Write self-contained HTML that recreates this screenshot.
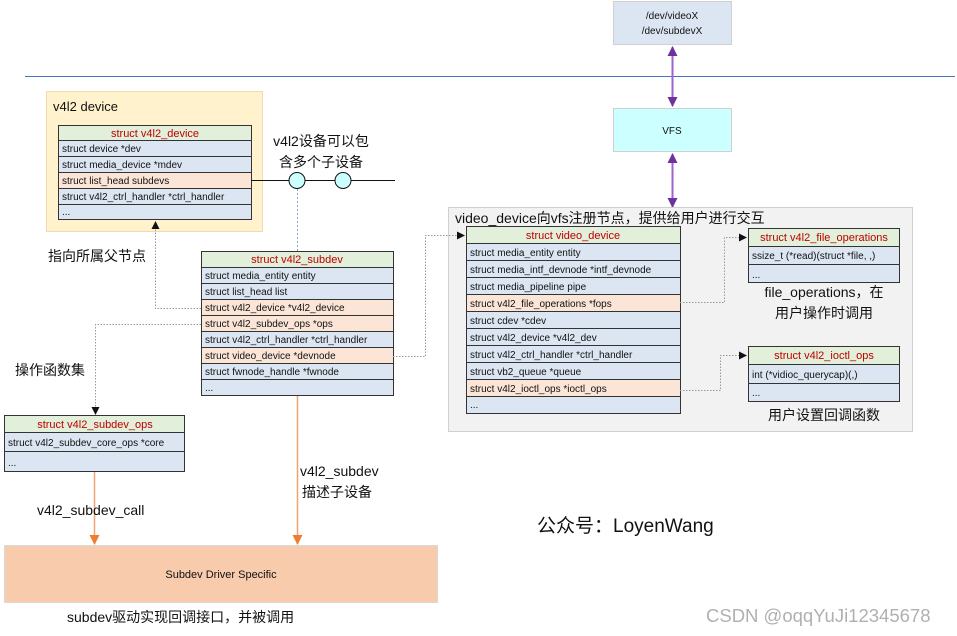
<!DOCTYPE html>
<html><head><meta charset="utf-8"><style>
html,body{margin:0;padding:0;background:#fff;width:957px;height:636px;overflow:hidden}
svg{display:block;font-family:"Liberation Sans","Noto Sans CJK SC",sans-serif}
.t{font-size:10px;fill:#111}
.h{font-size:11px;fill:#c00000}
.c{font-size:14px;fill:#111}
</style></head><body>
<svg width="957" height="636" viewBox="0 0 957 636">
<defs>
<marker id="ab" markerWidth="8" markerHeight="8" refX="7" refY="4" orient="auto" markerUnits="userSpaceOnUse"><path d="M0,0 L8,4 L0,8z" fill="#111"/></marker>
<marker id="ao" markerWidth="10" markerHeight="10" refX="9" refY="5" orient="auto" markerUnits="userSpaceOnUse"><path d="M0,0 L10,5 L0,10z" fill="#ed7d31"/></marker>
<marker id="ap" markerWidth="10" markerHeight="10" refX="9" refY="5" orient="auto-start-reverse" markerUnits="userSpaceOnUse"><path d="M0,0 L10,5 L0,10z" fill="#7030a0"/></marker>
</defs>
<rect x="613.5" y="1.5" width="118" height="43" fill="#dce6f2" stroke="#d0d0d0"/>
<text x="672" y="19" text-anchor="middle" class="t">/dev/videoX</text>
<text x="672" y="34" text-anchor="middle" class="t">/dev/subdevX</text>
<line x1="25" y1="76.5" x2="955" y2="76.5" stroke="#4472c4" stroke-width="1"/>
<rect x="613.5" y="108.5" width="118" height="43" fill="#ccffff" stroke="#d0d0d0"/>
<text x="672" y="134" text-anchor="middle" class="t">VFS</text>
<line x1="672.5" y1="47" x2="672.5" y2="106" stroke="#9966cc" stroke-width="2" marker-start="url(#ap)" marker-end="url(#ap)"/>
<line x1="672.5" y1="154" x2="672.5" y2="206" stroke="#9966cc" stroke-width="2" marker-start="url(#ap)"/>
<line x1="672.5" y1="200" x2="672.5" y2="207" stroke="#9966cc" stroke-width="2" marker-end="url(#ap)"/>

<rect x="46.5" y="91.5" width="216" height="140" fill="#fff2cc" stroke="#f0dcb0"/>
<text x="53" y="111" style="font-size:13px" fill="#111">v4l2 device</text>
<g stroke="#333" stroke-width="1">
<rect x="58.5" y="125.5" width="193" height="15" fill="#e2efda"/>
<rect x="58.5" y="140.5" width="193" height="16" fill="#dce6f2"/>
<rect x="58.5" y="156.5" width="193" height="16" fill="#dce6f2"/>
<rect x="58.5" y="172.5" width="193" height="16" fill="#fbe5d6"/>
<rect x="58.5" y="188.5" width="193" height="16" fill="#dce6f2"/>
<rect x="58.5" y="204.5" width="193" height="15" fill="#dce6f2"/>
</g>
<text x="155" y="137" text-anchor="middle" class="h">struct v4l2_device</text>
<text x="62" y="152" class="t">struct device *dev</text>
<text x="62" y="168" class="t">struct media_device *mdev</text>
<text x="62" y="184" class="t">struct list_head subdevs</text>
<text x="62" y="200" class="t">struct v4l2_ctrl_handler *ctrl_handler</text>
<text x="62" y="215" class="t">...</text>

<line x1="251" y1="180.5" x2="395" y2="180.5" stroke="#111"/>
<circle cx="297" cy="180.5" r="8" fill="#ccffff" stroke="#111"/>
<circle cx="343" cy="180.5" r="8" fill="#ccffff" stroke="#111"/>
<text x="321" y="146" text-anchor="middle" class="c">v4l2设备可以包</text>
<text x="321" y="167" text-anchor="middle" class="c">含多个子设备</text>
<line x1="297.5" y1="189" x2="297.5" y2="251" stroke="#8aa0c8" stroke-dasharray="2,2"/>

<text x="48" y="261" class="c">指向所属父节点</text>
<polyline points="201,308.5 155.5,308.5 155.5,222" fill="none" stroke="#999" stroke-dasharray="1.5,1.5" marker-end="url(#ab)"/>
<polyline points="201,324.5 95.5,324.5 95.5,414" fill="none" stroke="#999" stroke-dasharray="1.5,1.5" marker-end="url(#ab)"/>
<text x="15" y="375" class="c">操作函数集</text>

<g stroke="#333">
<rect x="201.5" y="251.5" width="192" height="16" fill="#e2efda"/>
<rect x="201.5" y="267.5" width="192" height="16" fill="#dce6f2"/>
<rect x="201.5" y="283.5" width="192" height="16" fill="#dce6f2"/>
<rect x="201.5" y="299.5" width="192" height="16" fill="#fbe5d6"/>
<rect x="201.5" y="315.5" width="192" height="16" fill="#fbe5d6"/>
<rect x="201.5" y="331.5" width="192" height="16" fill="#dce6f2"/>
<rect x="201.5" y="347.5" width="192" height="16" fill="#fbe5d6"/>
<rect x="201.5" y="363.5" width="192" height="16" fill="#dce6f2"/>
<rect x="201.5" y="379.5" width="192" height="16" fill="#dce6f2"/>
</g>
<text x="297" y="263" text-anchor="middle" class="h">struct v4l2_subdev</text>
<text x="205" y="279" class="t">struct media_entity entity</text>
<text x="205" y="295" class="t">struct list_head list</text>
<text x="205" y="311" class="t">struct v4l2_device *v4l2_device</text>
<text x="205" y="327" class="t">struct v4l2_subdev_ops *ops</text>
<text x="205" y="343" class="t">struct v4l2_ctrl_handler *ctrl_handler</text>
<text x="205" y="359" class="t">struct video_device *devnode</text>
<text x="205" y="375" class="t">struct fwnode_handle *fwnode</text>
<text x="205" y="391" class="t">...</text>

<g stroke="#333">
<rect x="4.5" y="415.5" width="180" height="17" fill="#e2efda"/>
<rect x="4.5" y="432.5" width="180" height="19" fill="#dce6f2"/>
<rect x="4.5" y="451.5" width="180" height="20" fill="#dce6f2"/>
</g>
<text x="95" y="428" text-anchor="middle" class="h">struct v4l2_subdev_ops</text>
<text x="8" y="446" class="t">struct v4l2_subdev_core_ops *core</text>
<text x="8" y="466" class="t">...</text>

<line x1="94.5" y1="472" x2="94.5" y2="544" stroke="#f4a070" stroke-width="1.5" marker-end="url(#ao)"/>
<line x1="297.5" y1="396" x2="297.5" y2="544" stroke="#f4a070" stroke-width="1.5" marker-end="url(#ao)"/>
<text x="37" y="515" class="c">v4l2_subdev_call</text>
<text x="300" y="476" class="c">v4l2_subdev</text>
<text x="302" y="497" class="c">描述子设备</text>

<rect x="4.5" y="545.5" width="433" height="57" fill="#f8cbad" stroke="#d9d9d9"/>
<text x="221" y="578" text-anchor="middle" class="t" style="font-size:11px">Subdev Driver Specific</text>
<text x="67" y="622" class="c">subdev驱动实现回调接口，并被调用</text>

<rect x="448.5" y="207.5" width="464" height="224" fill="#f2f2f2" stroke="#d0d0d0"/>
<text x="455" y="223" class="c">video_device向vfs注册节点，提供给用户进行交互</text>
<polyline points="393,356.5 425.5,356.5 425.5,235.5 464,235.5" fill="none" stroke="#999" stroke-dasharray="1.5,1.5" marker-end="url(#ab)"/>
<g stroke="#333">
<rect x="466.5" y="226.5" width="214" height="17" fill="#e2efda"/>
<rect x="466.5" y="243.5" width="214" height="17" fill="#dce6f2"/>
<rect x="466.5" y="260.5" width="214" height="17" fill="#dce6f2"/>
<rect x="466.5" y="277.5" width="214" height="17" fill="#dce6f2"/>
<rect x="466.5" y="294.5" width="214" height="17" fill="#fbe5d6"/>
<rect x="466.5" y="311.5" width="214" height="17" fill="#dce6f2"/>
<rect x="466.5" y="328.5" width="214" height="17" fill="#dce6f2"/>
<rect x="466.5" y="345.5" width="214" height="17" fill="#dce6f2"/>
<rect x="466.5" y="362.5" width="214" height="17" fill="#dce6f2"/>
<rect x="466.5" y="379.5" width="214" height="17" fill="#fbe5d6"/>
<rect x="466.5" y="396.5" width="214" height="17" fill="#dce6f2"/>
</g>
<text x="573" y="239" text-anchor="middle" class="h">struct video_device</text>
<text x="470" y="256" class="t">struct media_entity entity</text>
<text x="470" y="273" class="t">struct media_intf_devnode *intf_devnode</text>
<text x="470" y="290" class="t">struct media_pipeline pipe</text>
<text x="470" y="307" class="t">struct v4l2_file_operations *fops</text>
<text x="470" y="324" class="t">struct cdev *cdev</text>
<text x="470" y="341" class="t">struct v4l2_device *v4l2_dev</text>
<text x="470" y="358" class="t">struct v4l2_ctrl_handler *ctrl_handler</text>
<text x="470" y="375" class="t">struct vb2_queue *queue</text>
<text x="470" y="392" class="t">struct v4l2_ioctl_ops *ioctl_ops</text>
<text x="470" y="408" class="t">...</text>

<polyline points="680,302.5 724.5,302.5 724.5,237.5 746,237.5" fill="none" stroke="#999" stroke-dasharray="1.5,1.5" marker-end="url(#ab)"/>
<polyline points="680,390.5 720.5,390.5 720.5,355.5 746,355.5" fill="none" stroke="#999" stroke-dasharray="1.5,1.5" marker-end="url(#ab)"/>

<g stroke="#333">
<rect x="748.5" y="228.5" width="151" height="18" fill="#e2efda"/>
<rect x="748.5" y="246.5" width="151" height="18" fill="#dce6f2"/>
<rect x="748.5" y="264.5" width="151" height="18" fill="#dce6f2"/>
<rect x="748.5" y="346.5" width="151" height="18" fill="#e2efda"/>
<rect x="748.5" y="364.5" width="151" height="19" fill="#dce6f2"/>
<rect x="748.5" y="383.5" width="151" height="18" fill="#dce6f2"/>
</g>
<text x="824" y="241" text-anchor="middle" class="h">struct v4l2_file_operations</text>
<text x="752" y="259" class="t">ssize_t (*read)(struct *file, ,)</text>
<text x="752" y="278" class="t">...</text>
<text x="824" y="359" text-anchor="middle" class="h">struct v4l2_ioctl_ops</text>
<text x="752" y="378" class="t">int (*vidioc_querycap)(,)</text>
<text x="752" y="396" class="t">...</text>
<text x="824" y="297" text-anchor="middle" class="c">file_operations，在</text>
<text x="824" y="318" text-anchor="middle" class="c">用户操作时调用</text>
<text x="824" y="420" text-anchor="middle" class="c">用户设置回调函数</text>

<text x="537" y="532" style="font-size:19px" fill="#111">公众号：LoyenWang</text>
<text x="706" y="622" style="font-size:18.5px" fill="#b0b0b0">CSDN @oqqYuJi12345678</text>
</svg>
</body></html>
